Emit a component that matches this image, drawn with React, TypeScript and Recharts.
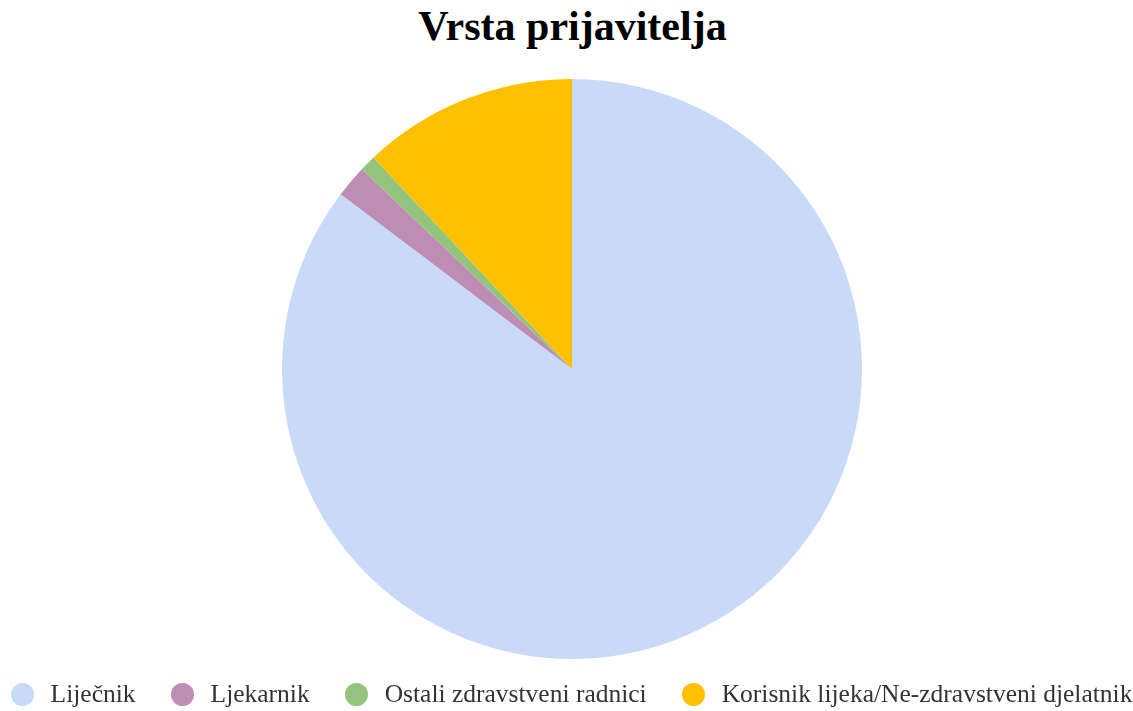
import React from 'react';
import { PieChart, Pie, Cell, Legend } from 'recharts';

const categories = ['Liječnik', 'Ljekarnik', 'Ostali zdravstveni radnici', 'Korisnik lijeka/Ne-zdravstveni djelatnik'];
const values = [85.3, 1.8, 0.9, 12.0];
const COLORS = ['#c9daf8', '#bd8db4', '#93c47d', '#ffc000'];

const data = categories.map((name, i) => ({ name, value: values[i] }));

const renderLegend = () => (
  <div style={{ display: 'flex', justifyContent: 'center', alignItems: 'center', fontFamily: '"Liberation Serif", serif', fontSize: 25.5, color: '#333', whiteSpace: 'nowrap' }}>
    {categories.map((c, i) => (
      <div key={c} style={{ display: 'flex', alignItems: 'center', marginLeft: i === 0 ? 0 : 35 }}>
        <span style={{ width: 23, height: 23, borderRadius: '50%', background: COLORS[i], display: 'inline-block', marginRight: 17 }} />
        <span>{c}</span>
      </div>
    ))}
  </div>
);

const App: React.FC = () => {
  return (
    <div style={{ position: 'fixed', left: 0, top: 0, width: 1133, height: 711, background: '#fff' }}>
      <div style={{ position: 'absolute', left: 0, top: 2, width: 1145, textAlign: 'center', fontFamily: '"Liberation Serif", serif', fontWeight: 'bold', fontSize: 42, color: '#000' }}>
        Vrsta prijavitelja
      </div>
      <PieChart width={1133} height={711} margin={{ top: 0, right: 0, bottom: 0, left: 0 }}>
        <Pie
          data={data}
          dataKey="value"
          nameKey="name"
          cx={572}
          cy={369}
          outerRadius={290}
          startAngle={90}
          endAngle={-270}
          stroke="none"
          isAnimationActive={false}
        >
          {data.map((entry, index) => (
            <Cell key={`cell-${index}`} fill={COLORS[index]} />
          ))}
        </Pie>
        <Legend content={renderLegend} verticalAlign="bottom" wrapperStyle={{ bottom: 2, left: 0, width: 1143 }} />
      </PieChart>
    </div>
  );
};

export default App;
